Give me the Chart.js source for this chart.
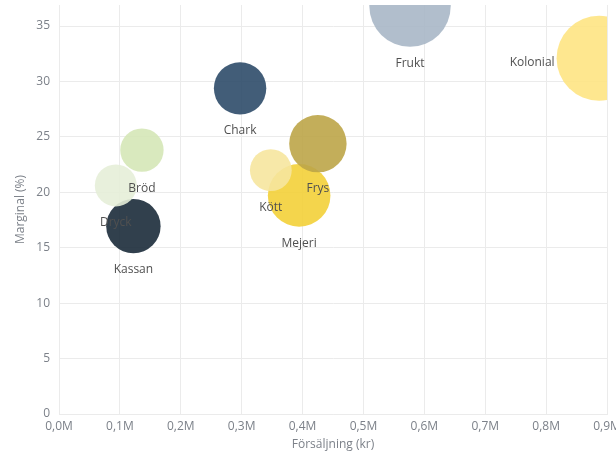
<!DOCTYPE html>
<html>
<head>
<meta charset="utf-8">
<script src="https://cdn.jsdelivr.net/npm/chart.js@4"></script>
<style>
  html, body { margin: 0; padding: 0; background: #ffffff; }
  #wrap { width: 616px; height: 452px; }
</style>
</head>
<body>
<div id="wrap"><canvas id="c" width="616" height="452"></canvas></div>
<script>
const categories = ['Kassan', 'Dryck', 'Bröd', 'Chark', 'Mejeri', 'Kött', 'Frys', 'Frukt', 'Kolonial'];
const sales = [122200, 93300, 136200, 297400, 394400, 347900, 425200, 576500, 887000];
const margin = [16.95, 20.62, 23.81, 29.38, 19.72, 22.0, 24.39, 36.8, 32.1];
const bubbleSize = [27.2, 21, 21.7, 26.2, 31.3, 20.9, 28.7, 40.7, 42.5];
const xTickLabels = ['0,0M', '0,1M', '0,2M', '0,3M', '0,4M', '0,5M', '0,6M', '0,7M', '0,8M', '0,9M'];
const yTickLabels = ['0', '5', '10', '15', '20', '25', '30', '35'];
const colors = [
  'rgba(27,43,58,0.9)', 'rgba(229,238,216,0.9)', 'rgba(213,231,183,0.9)',
  'rgba(46,75,105,0.9)', 'rgba(243,208,56,0.9)', 'rgba(246,229,158,0.9)',
  'rgba(189,165,72,0.9)', 'rgba(169,183,198,0.9)', 'rgba(254,228,131,0.9)'
];

const FONT = '"Open Sans", "Noto Sans", sans-serif';
const tickColor = '#7c8189';
const gridColor = '#ebebeb';

const labelPlugin = {
  id: 'bubbleLabels',
  afterDatasetsDraw(chart) {
    const ctx = chart.ctx;
    const meta = chart.getDatasetMeta(0);
    ctx.save();
    ctx.font = '12px ' + FONT;
    ctx.fillStyle = '#505050';
    ctx.textBaseline = 'middle';
    meta.data.forEach((el, i) => {
      const r = el.options.radius;
      const text = categories[i];
      const w = ctx.measureText(text).width;
      if (el.x + w / 2 > chart.chartArea.right) {
        ctx.textAlign = 'right';
        ctx.fillText(text, el.x - r - 2, el.y + 4);
      } else {
        ctx.textAlign = 'center';
        ctx.fillText(text, el.x, el.y + r + 16.5);
      }
    });
    ctx.restore();
  }
};

new Chart(document.getElementById('c'), {
  type: 'bubble',
  data: {
    datasets: [{
      data: categories.map((c, i) => ({ x: sales[i], y: margin[i], r: bubbleSize[i] })),
      backgroundColor: colors,
      borderWidth: 0,
      hoverBorderWidth: 0,
      clip: 0
    }]
  },
  options: {
    responsive: false,
    animation: false,
    events: [],
    layout: { autoPadding: false, padding: { top: 5, right: 9, left: 0, bottom: 0 } },
    plugins: { legend: { display: false }, tooltip: { enabled: false } },
    scales: {
      x: {
        type: 'linear',
        min: 0,
        max: 900000,
        afterFit(s) { s.height = 38; s.paddingLeft = 0; s.paddingRight = 0; },
        ticks: {
          stepSize: 100000,
          padding: 5,
          maxRotation: 0,
          autoSkip: false,
          color: tickColor,
          font: { family: FONT, size: 12 },
          callback: (v, i) => xTickLabels[i]
        },
        grid: { color: gridColor, drawTicks: false },
        border: { color: gridColor },
        title: {
          display: true,
          text: 'Försäljning (kr)',
          color: tickColor,
          font: { family: FONT, size: 12 },
          padding: { top: 5, bottom: 0 }
        }
      },
      y: {
        type: 'linear',
        min: 0,
        max: 36.9,
        afterFit(s) { s.width = 59; s.paddingTop = 0; s.paddingBottom = 0; },
        ticks: {
          stepSize: 5,
          includeBounds: false,
          padding: 9,
          color: tickColor,
          font: { family: FONT, size: 12 },
          callback: (v, i) => yTickLabels[i]
        },
        grid: { color: gridColor, drawTicks: false },
        border: { color: gridColor },
        title: {
          display: true,
          text: 'Marginal (%)',
          color: tickColor,
          font: { family: FONT, size: 12 },
          padding: { top: 13, bottom: 0 }
        }
      }
    }
  },
  plugins: [labelPlugin]
});
</script>
</body>
</html>
